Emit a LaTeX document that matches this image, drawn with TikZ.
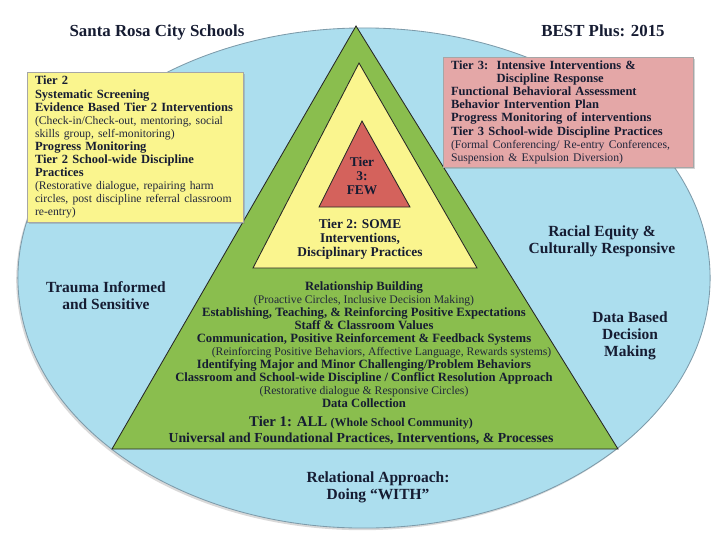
\documentclass[tikz,border=0pt]{standalone}
\usepackage{fontspec}
\setmainfont{Liberation Serif}
\usetikzlibrary{shadows,calc}
\definecolor{sky}{RGB}{172,222,238}
\definecolor{skyline}{RGB}{125,155,170}
\definecolor{leaf}{RGB}{138,190,78}
\definecolor{lemon}{RGB}{250,245,142}
\definecolor{brick}{RGB}{212,98,92}
\definecolor{blush}{RGB}{228,167,167}
\definecolor{ink}{RGB}{22,28,50}
\newcommand{\parnote}[1]{{\mdseries\fontsize{8.3}{9.2}\selectfont\color{ink!95}#1}}
\tikzset{
  layer/.style={draw=black!85, line width=0.6pt, line join=miter},
  box/.style={draw=black!35, line width=0.4pt, align=left, text=ink,
              inner xsep=5.5pt, inner ysep=2pt,
              font=\bfseries\fontsize{8.9}{9.3}\selectfont,
              drop shadow={shadow xshift=1pt, shadow yshift=-1pt, opacity=0.35}},
  tiertext/.style={align=center, text=ink, inner sep=1pt,
                   font=\bfseries\fontsize{9.5}{9.9}\selectfont},
  theme/.style={align=center, text=ink, inner sep=1pt,
                font=\bfseries\fontsize{11}{12}\selectfont},
  heading/.style={text=ink, inner sep=1pt, font=\bfseries\fontsize{12}{14}\selectfont},
}

\begin{document}
\begin{tikzpicture}[x=0.025cm,y=-0.025cm]
    \useasboundingbox (0,0) rectangle (720,540);

    %% ---------- background ellipse ----------
    \draw[fill=sky, draw=skyline, line width=0.6pt,
          drop shadow={shadow xshift=-1.2pt, shadow yshift=-1.5pt, opacity=0.3}]
      (364,278) ellipse [x radius=8.65cm, y radius=6.25cm];

    %% ---------- titles ----------
    \node[heading] (district) at (157,32) {Santa Rosa City Schools};
    \node[heading] (edition)  at (603,31) {BEST Plus: 2015};

    %% ---------- pyramid: tier 1 / tier 2 / tier 3 ----------
    \coordinate (oneTop)   at (356,26);
    \coordinate (oneLeft)  at (112,449);
    \coordinate (oneRight) at (618,449);
    \coordinate (twoTop)   at (359,63);
    \coordinate (twoLeft)  at (253,268);
    \coordinate (twoRight) at (477,268);
    \coordinate (threeTop)   at (362,121);
    \coordinate (threeLeft)  at (319,207);
    \coordinate (threeRight) at (410,207);
    \draw[layer, fill=leaf]  (oneTop) -- (oneRight) -- (oneLeft) -- cycle;
    \draw[layer, fill=lemon] (twoTop) -- (twoRight) -- (twoLeft) -- cycle;
    \draw[layer, fill=brick] (threeTop) -- (threeRight) -- (threeLeft) -- cycle;

    \node[tiertext] (few)  at (362,176) {Tier\\3:\\FEW};
    \node[tiertext] (some) at (360,239) {Tier 2: SOME\\Interventions,\\Disciplinary Practices};

    \node[tiertext, font=\bfseries\fontsize{9}{9.25}\selectfont] (all) at (364,345) {
      Relationship Building\\
      \parnote{(Proactive Circles, Inclusive Decision Making)}\\
      Establishing, Teaching, \& Reinforcing Positive Expectations\\
      Staff \& Classroom Values\\
      Communication, Positive Reinforcement \& Feedback Systems\\
      \hspace*{25pt}\parnote{(Reinforcing Positive Behaviors, Affective Language, Rewards systems)}\\
      Identifying Major and Minor Challenging/Problem Behaviors\\
      Classroom and School-wide Discipline / Conflict Resolution Approach\\
      \parnote{(Restorative dialogue \& Responsive Circles)}\\
      Data Collection};
    \node[tiertext, font=\bfseries\fontsize{9.8}{11.4}\selectfont] (allBase) at (361,430) {
      {\fontsize{10.5}{11.4}\selectfont Tier 1: ALL} {\fontsize{8.5}{11.4}\selectfont (Whole School Community)}\\
      Universal and Foundational Practices, Interventions, \& Processes};

    %% ---------- side boxes ----------
    \node[box, fill=lemon, anchor=north west, text width=5.4cm-11pt,
          minimum height=3.75cm] (boxTwo) at (27,72) {
      Tier 2\\
      Systematic Screening\\
      Evidence Based Tier 2 Interventions\\
      \parnote{(Check-in/Check-out, mentoring, social}\\
      \parnote{skills group, self-monitoring)}\\
      Progress Monitoring\\
      Tier 2 School-wide Discipline\\
      Practices\\
      \parnote{(Restorative dialogue, repairing harm}\\
      \parnote{circles, post discipline referral classroom}\\
      \parnote{re-entry)}};
    \node[box, fill=blush, anchor=north west, text width=6.25cm-11pt,
          minimum height=2.75cm] (boxThree) at (443,57) {
      Tier 3:\ \ Intensive Interventions \&\\
      \hphantom{Tier 3:\ \ }Discipline Response\\
      Functional Behavioral Assessment\\
      Behavior Intervention Plan\\
      Progress Monitoring of interventions\\
      Tier 3 School-wide Discipline Practices\\
      \parnote{(Formal Conferencing/ Re-entry Conferences,}\\
      \parnote{Suspension \& Expulsion Diversion)}};

    %% ---------- themes around the pyramid ----------
    \node[theme] (trauma)     at (106,296) {Trauma Informed\\and Sensitive};
    \node[theme] (equity)     at (602,241) {Racial Equity \&\\Culturally Responsive};
    \node[theme] (data)       at (630,336) {Data Based\\Decision\\Making};
    \node[theme] (relational) at (378,487) {Relational Approach:\\Doing “WITH”};

\end{tikzpicture}
\end{document}
